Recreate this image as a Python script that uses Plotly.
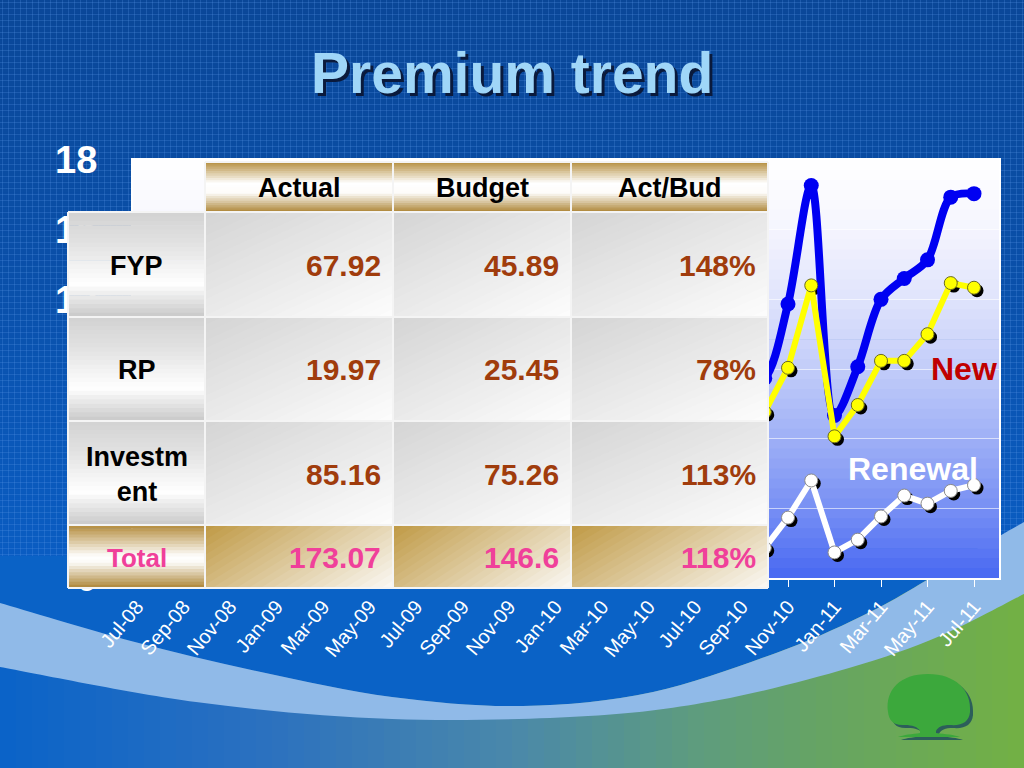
import plotly.graph_objects as go

W, H = 1024, 768
FONT = "Liberation Sans, Arial, Helvetica, sans-serif"

# ---------------- data ----------------
months = ["Jul-08", "Aug-08", "Sep-08", "Oct-08", "Nov-08", "Dec-08",
          "Jan-09", "Feb-09", "Mar-09", "Apr-09", "May-09", "Jun-09",
          "Jul-09", "Aug-09", "Sep-09", "Oct-09", "Nov-09", "Dec-09",
          "Jan-10", "Feb-10", "Mar-10", "Apr-10", "May-10", "Jun-10",
          "Jul-10", "Aug-10", "Sep-10", "Oct-10", "Nov-10", "Dec-10",
          "Jan-11", "Feb-11", "Mar-11", "Apr-11", "May-11", "Jun-11", "Jul-11"]

total_prem = [4.9, 5.3, 4.8, 5.7, 6.2, 7.8, 4.1, 4.8, 5.3, 5.6, 6.0, 7.0,
              4.9, 5.6, 6.0, 6.4, 6.7, 8.5, 4.5, 5.5, 6.2, 6.5, 7.1, 7.4,
              7.7, 8.0, 8.2, 8.6, 11.8, 16.9, 7.0, 9.1, 12.0, 12.9, 13.7, 16.4, 16.55]
new_prem = [4.1, 4.4, 3.8, 4.6, 5.0, 6.2, 3.4, 3.9, 4.3, 4.5, 4.8, 5.5,
            4.0, 4.6, 4.9, 5.2, 5.4, 6.7, 3.7, 4.5, 5.1, 5.3, 5.8, 6.0,
            6.3, 6.5, 6.8, 7.15, 9.05, 12.6, 6.1, 7.45, 9.35, 9.35, 10.5, 12.7, 12.5]
renewal_prem = [0.8, 0.9, 1.0, 1.1, 1.2, 1.6, 0.7, 0.9, 1.0, 1.1, 1.2, 1.5,
                0.9, 1.0, 1.1, 1.2, 1.3, 1.8, 0.8, 1.0, 1.1, 1.2, 1.3, 1.4,
                1.4, 1.5, 1.4, 1.3, 2.6, 4.2, 1.1, 1.65, 2.65, 3.55, 3.2, 3.75, 4.0]

y_ticks = [0, 3, 6, 9, 12, 15, 18]

table_cols = ["Actual", "Budget", "Act/Bud"]
table_rows = ["FYP", "RP", "Investment", "Total"]
row_display = ["FYP", "RP", "Investm<br>ent", "Total"]
actual_vals = [67.92, 19.97, 85.16, 173.07]
budget_vals = [45.89, 25.45, 75.26, 146.6]
actbud_pct = [148, 78, 113, 118]

idx = list(range(len(months)))

# ---------------- helpers ----------------
def X(px):
    return px / W

def Y(py):
    return 1 - py / H

def h2rgb(h):
    h = h.lstrip("#")
    return tuple(int(h[i:i + 2], 16) for i in (0, 2, 4))

def mix(c1, c2, t):
    a, b = h2rgb(c1), h2rgb(c2)
    return "rgb(%d,%d,%d)" % tuple(round(a[i] + (b[i] - a[i]) * t) for i in range(3))

def stop_color(stops, t):
    for i in range(len(stops) - 1):
        t0, c0 = stops[i]
        t1, c1 = stops[i + 1]
        if t <= t1:
            return mix(c0, c1, 0 if t1 == t0 else (t - t0) / (t1 - t0))
    return mix(stops[-1][1], stops[-1][1], 0)

shapes = []

def rect(x0, y0, x1, y1, color, layer="above"):
    shapes.append(dict(type="rect", xref="paper", yref="paper",
                       x0=X(x0), x1=X(x1), y0=Y(y1), y1=Y(y0),
                       fillcolor=color, line=dict(width=0), layer=layer))

def vgrad(x0, y0, x1, y1, stops, n, layer="above"):
    h = (y1 - y0) / n
    for i in range(n):
        t = (i + 0.5) / n
        a = y0 + i * h
        b = min(y1, a + h + 0.7)
        rect(x0, a, x1, b, stop_color(stops, t), layer)

def hgrad(x0, y0, x1, y1, stops, n, layer="below"):
    w = (x1 - x0) / n
    for i in range(n):
        t = (i + 0.5) / n
        a = x0 + i * w
        b = min(x1, a + w + 0.7)
        rect(a, y0, b, y1, stop_color(stops, t), layer)

def clip(poly, f):
    out = []
    n = len(poly)
    for i in range(n):
        p, q = poly[i], poly[(i + 1) % n]
        fp, fq = f(p), f(q)
        if fp >= 0:
            out.append(p)
        if (fp >= 0) != (fq >= 0):
            t = fp / (fp - fq)
            out.append((p[0] + (q[0] - p[0]) * t, p[1] + (q[1] - p[1]) * t))
    return out

def dgrad(x0, y0, x1, y1, c0, c1, n, wx=0.5, layer="above"):
    """diagonal gradient built from clipped strips (opaque, slightly overlapping)"""
    w, h = x1 - x0, y1 - y0
    box = [(x0, y0), (x1, y0), (x1, y1), (x0, y1)]
    s = lambda p: wx * (p[0] - x0) / w + (1 - wx) * (p[1] - y0) / h
    for i in range(n):
        s0 = i / n if i > 0 else -1.0
        s1 = (i + 1) / n + (0.6 / n if i < n - 1 else 1.0)
        poly = clip(box, lambda p: s(p) - s0)
        poly = clip(poly, lambda p: s1 - s(p))
        if len(poly) < 3:
            continue
        d = "M" + " L".join("%.5f,%.5f" % (X(p[0]), Y(p[1])) for p in poly) + " Z"
        shapes.append(dict(type="path", xref="paper", yref="paper", path=d,
                           fillcolor=mix(c0, c1, (i + 0.5) / n), line=dict(width=0), layer=layer))

def line(x0, y0, x1, y1, color, width, layer="above"):
    shapes.append(dict(type="line", xref="paper", yref="paper",
                       x0=X(x0), x1=X(x1), y0=Y(y0), y1=Y(y1),
                       line=dict(color=color, width=width), layer=layer))

def smooth(pts, start="M"):
    d = "%s%.5f,%.5f" % (start, X(pts[0][0]), Y(pts[0][1]))
    n = len(pts)
    for i in range(n - 1):
        p0 = pts[i - 1] if i > 0 else pts[i]
        p1 = pts[i]
        p2 = pts[i + 1]
        p3 = pts[i + 2] if i + 2 < n else pts[i + 1]
        c1 = (p1[0] + (p2[0] - p0[0]) / 6, p1[1] + (p2[1] - p0[1]) / 6)
        c2 = (p2[0] - (p3[0] - p1[0]) / 6, p2[1] - (p3[1] - p1[1]) / 6)
        d += " C%.5f,%.5f %.5f,%.5f %.5f,%.5f" % (X(c1[0]), Y(c1[1]), X(c2[0]), Y(c2[1]), X(p2[0]), Y(p2[1]))
    return d

def path(d, color, layer="below"):
    shapes.append(dict(type="path", xref="paper", yref="paper", path=d,
                       fillcolor=color, line=dict(width=0), layer=layer))

# ---------------- slide background ----------------
vgrad(0, 0, W, 562, [(0, "#0a4798"), (0.5, "#0a50aa"), (1, "#0a5dc3")], 70, layer="below")
tex_v = " ".join("M%.5f,%.5f L%.5f,%.5f" % (X(x + 0.5), Y(0), X(x + 0.5), Y(562)) for x in range(2, W, 6))
tex_h = " ".join("M%.5f,%.5f L%.5f,%.5f" % (X(0), Y(y + 0.5), X(W), Y(y + 0.5)) for y in range(2, 562, 6))
shapes.append(dict(type="path", xref="paper", yref="paper", path=tex_v,
                   line=dict(color="rgba(90,150,230,0.25)", width=1), layer="below"))
shapes.append(dict(type="path", xref="paper", yref="paper", path=tex_h,
                   line=dict(color="rgba(90,150,230,0.25)", width=1), layer="below"))

# bottom horizontal gradient (blue -> green)
hgrad(0, 556, W, H, [(0, "#0a63c8"), (0.25, "#2a70c0"), (0.5, "#4a88aa"),
                     (0.68, "#5e9c7e"), (0.8, "#66a464"), (1, "#72b044")], 64, layer="below")

upper = [(0, 603), (131, 641), (261, 672), (392, 697), (523, 706), (653, 692),
         (784, 650), (870, 612), (927, 580), (975, 550), (1024, 522)]
lower = [(0, 667), (196, 702), (392, 719), (588, 716), (719, 700), (849, 668),
         (940, 636), (1024, 594)]

# dark blue area above the band
d = "M%.5f,%.5f L%.5f,%.5f L%.5f,%.5f " % (X(0), Y(556), X(955), Y(556), X(927), Y(580))
d += smooth(upper[:9][::-1], start="L") + " Z"
path(d, "#0a62c6")

# light blue band
d = smooth(upper) + " " + smooth(lower[::-1], start="L") + " Z"
path(d, "#90bae8")

# tree logo
def tree_path(dx, dy):
    pts = [
        ("M", (888, 712)), ("C", (885, 690), (900, 674), (928, 674)),
        ("C", (955, 674), (972, 690), (970, 712)),
        ("C", (969, 722), (962, 726), (950, 725)),
        ("C", (942, 725), (938, 727), (936, 731)),
        ("L", (936, 733)),
        ("C", (945, 734), (955, 735), (960, 737)),
        ("L", (898, 737)),
        ("C", (903, 735), (913, 734), (920, 733)),
        ("L", (920, 731)),
        ("C", (918, 727), (912, 725), (905, 725)),
        ("C", (893, 726), (889, 720), (888, 712)),
    ]
    s = ""
    for item in pts:
        s += item[0] + " ".join("%.5f,%.5f" % (X(p[0] + dx), Y(p[1] + dy)) for p in item[1:]) + " "
    return s + "Z"

path(tree_path(3, 3), "#2c5e5a")
path(tree_path(0, 0), "#3ca83c")

# ---------------- plot-area background ----------------
PX0, PX1, PY0, PY1 = 133, 999, 160, 578
vgrad(PX0, PY0, PX1, PY1, [(0, "#ffffff"), (0.15, "#f6f6fe"), (0.33, "#e0e4fc"),
                           (0.5, "#c2ccf9"), (0.67, "#9eaff6"), (0.83, "#7890f4"),
                           (1, "#4868f2")], 42, layer="below")

# ---------------- table ----------------
cx = [68, 205, 393, 571, 768]
ry = [162, 212, 317, 421, 525, 588]
gold = [(0, "#b58f40"), (0.42, "#ffffff"), (0.62, "#fdfcfa"), (1, "#ad8536")]
gray_lbl = [(0, "#d2d2d2"), (0.3, "#e2e2e2"), (0.68, "#ffffff"), (1, "#c8c8c8")]

for c in range(1, 4):
    vgrad(cx[c], ry[0], cx[c + 1], ry[1], gold, 22)
for r in range(3):
    vgrad(cx[0], ry[r + 1], cx[1], ry[r + 2], gray_lbl, 24)
    for c in range(1, 4):
        dgrad(cx[c], ry[r + 1], cx[c + 1], ry[r + 2], "#d4d4d4", "#fdfdfd", 24, wx=0.45)
vgrad(cx[0], ry[4], cx[1], ry[5], [(0, "#b48c3c"), (0.5, "#ffffff"), (0.6, "#fbfaf6"), (1, "#ad8536")], 20)
for c in range(1, 4):
    dgrad(cx[c], ry[4], cx[c + 1], ry[5], "#bf9944", "#fbf9f5", 24, wx=0.65)

BORDER = "#f4f4f4"
line(cx[1], ry[0], cx[4], ry[0], BORDER, 2)
for yv in ry[1:]:
    line(cx[0], yv, cx[4], yv, BORDER, 2)
line(cx[0], ry[1], cx[0], ry[5], BORDER, 2)
for xv in cx[1:]:
    line(xv, ry[0], xv, ry[5], BORDER, 2)

annotations = []

def txt(x, y, s, size, color, xanchor="center", yanchor="middle"):
    annotations.append(dict(xref="paper", yref="paper", x=X(x), y=Y(y), text=s,
                            showarrow=False, xanchor=xanchor, yanchor=yanchor,
                            font=dict(family=FONT, size=size, color=color)))

VAL = "#a03c0c"
PINK = "#f0409a"
for c, name in enumerate(table_cols):
    txt((cx[c + 1] + cx[c + 2]) / 2, (ry[0] + ry[1]) / 2 + 1, "<b>%s</b>" % name, 27, "black")
for r in range(4):
    yc = (ry[r + 1] + ry[r + 2]) / 2 + 1
    is_total = table_rows[r] == "Total"
    txt((cx[0] + cx[1]) / 2, yc, "<b>%s</b>" % row_display[r], 26 if is_total else 27,
        PINK if is_total else "black")
    col_vals = [str(actual_vals[r]), str(budget_vals[r]), "%d%%" % actbud_pct[r]]
    for c in range(3):
        txt(cx[c + 2] - 10, yc, "<b>%s</b>" % col_vals[c], 30,
            PINK if is_total else VAL, xanchor="right")

# title (with drop shadow)
txt(512 + 3, 73 + 3, "<b>Premium trend</b>", 57, "#0a1a3c")
txt(512, 73, "<b>Premium trend</b>", 57, "#9fd6f8")

# series labels
txt(999, 369, "<b>New</b>", 32, "#c00000", xanchor="right")
txt(980, 469, "<b>Renewal</b>", 32, "white", xanchor="right")

# ---------------- traces ----------------
fig = go.Figure()

SH = 3  # shadow offset, px
px_per_x = 23.25
px_per_y = (PY1 - PY0) / 18.0
xr = [(PX0 - 137) / px_per_x, (PX1 - 137) / px_per_x]
yr = [0, 18]
xdom = [X(PX0), X(PX1)]
ydom = [Y(PY1), Y(PY0)]

# anchor trace for the base axes (keeps ticks & grid drawn)
fig.add_trace(go.Scatter(x=[0], y=[0], mode="markers", marker=dict(opacity=0),
                         hoverinfo="skip", xaxis="x", yaxis="y"))

for ys, sz in ((new_prem, 13), (renewal_prem, 13)):
    fig.add_trace(go.Scatter(x=idx, y=ys, mode="markers", xaxis="x2", yaxis="y2",
                             marker=dict(color="black", size=sz), hoverinfo="skip"))

fig.add_trace(go.Scatter(x=idx, y=total_prem, mode="lines+markers", name="Total",
                         xaxis="x3", yaxis="y3",
                         line=dict(color="#0000f2", width=8, shape="spline", smoothing=0.9),
                         marker=dict(color="#0000f2", size=15)))
fig.add_trace(go.Scatter(x=idx, y=new_prem, mode="lines+markers", name="New",
                         xaxis="x3", yaxis="y3",
                         line=dict(color="#ffff00", width=6),
                         marker=dict(color="#ffff00", size=13, line=dict(color="#6a6a20", width=1))))
fig.add_trace(go.Scatter(x=idx, y=renewal_prem, mode="lines+markers", name="Renewal",
                         xaxis="x3", yaxis="y3",
                         line=dict(color="#ffffff", width=6),
                         marker=dict(color="#ffffff", size=13, line=dict(color="#8a8a8a", width=1))))

fig.update_layout(
    width=W, height=H,
    margin=dict(l=0, r=0, t=0, b=0, autoexpand=False),
    paper_bgcolor="#0a4fa8",
    plot_bgcolor="rgba(0,0,0,0)",
    showlegend=False,
    shapes=shapes,
    annotations=annotations,
    xaxis=dict(domain=xdom, range=xr, tickmode="array", automargin=False,
               tickvals=idx[::2], ticktext=months[::2], tickangle=-50,
               tickfont=dict(family=FONT, size=20, color="white"),
               ticks="outside", ticklen=7, tickcolor="white", tickwidth=1,
               showgrid=False, zeroline=False, showline=True, linecolor="white",
               linewidth=2, mirror=True),
    yaxis=dict(domain=ydom, range=yr, tickmode="array", tickvals=y_ticks, automargin=False,
               tickfont=dict(family=FONT, size=38, color="white", weight=700),
               ticks="", ticklabelstandoff=26,
               showgrid=True, gridcolor="rgba(255,255,255,0.6)", gridwidth=1,
               zeroline=False, showline=True, linecolor="white", linewidth=2, mirror=True),
    xaxis2=dict(overlaying="x", domain=xdom, anchor="y2", automargin=False,
                range=[xr[0] - SH / px_per_x, xr[1] - SH / px_per_x], visible=False),
    yaxis2=dict(overlaying="y", domain=ydom, anchor="x2", automargin=False,
                range=[yr[0] + SH / px_per_y, yr[1] + SH / px_per_y], visible=False),
    xaxis3=dict(overlaying="x", domain=xdom, anchor="y3", range=xr, visible=False, automargin=False),
    yaxis3=dict(overlaying="y", domain=ydom, anchor="x3", range=yr, visible=False, automargin=False),
)

fig.write_html("out.html", config={"displayModeBar": False},
               post_script="document.body.style.margin='0';document.body.style.overflow='hidden';")
